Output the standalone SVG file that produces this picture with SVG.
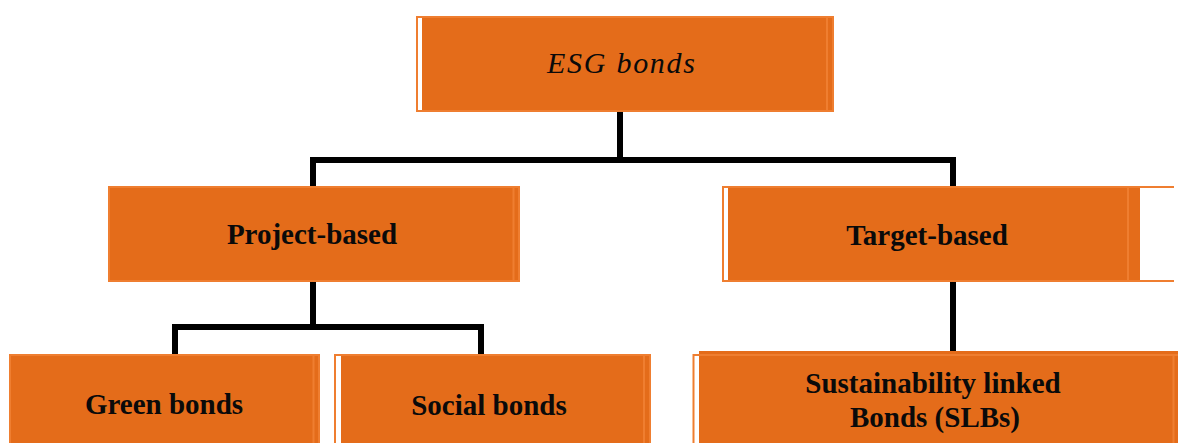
<svg xmlns="http://www.w3.org/2000/svg" width="1178" height="443" viewBox="0 0 1178 443">
<style>
.box{fill:#E46C1A;stroke:#EF7E30;stroke-width:2}
.fill{fill:#E46C1A}
.frame{fill:#FFFFFF;stroke:#EF7E30;stroke-width:2}
.strip{fill:#FFFFFF}
.edge{stroke:#EF7E30;stroke-width:2;fill:none}
.lbl{font-family:"Liberation Serif","Times New Roman",serif;font-size:29px;font-weight:bold;fill:#0A0A0A;text-anchor:middle}
.ital{font-family:"Liberation Serif","Times New Roman",serif;font-size:30px;font-style:italic;fill:#0A0A0A;text-anchor:middle}
.con{fill:none;stroke:#000000;stroke-width:6;stroke-linecap:butt;stroke-linejoin:miter}
</style>
<rect width="1178" height="443" fill="#FFFFFF"/>
<g id="connectors">
<path class="con" d="M620,112 V160"/>
<path class="con" d="M313,186 V160 H953 V186"/>
<path class="con" d="M313,282 V327"/>
<path class="con" d="M175,354 V327 H481 V354"/>
<path class="con" d="M953,282 V351"/>
</g>
<g id="esg">
<rect class="box" x="417" y="17" width="416" height="94"/>
<rect class="strip" x="418" y="18" width="4" height="92"/>
<line class="edge" x1="827" y1="17" x2="827" y2="111"/>
<text class="ital" x="621" y="73" textLength="148" lengthAdjust="spacing">ESG bonds</text>
</g>
<g id="project">
<rect class="box" x="109" y="187" width="410" height="94"/>
<line class="edge" x1="513.5" y1="187" x2="513.5" y2="281"/>
<text class="lbl" x="312" y="244">Project-based</text>
</g>
<g id="target">
<path class="edge" d="M1174,187 H723 V281 H1174"/>
<rect class="fill" x="728" y="188" width="412" height="92"/>
<line class="edge" x1="1128" y1="187" x2="1128" y2="281"/>
<text class="lbl" x="927" y="245">Target-based</text>
</g>
<g id="green">
<rect class="box" x="10" y="355" width="309" height="100"/>
<line class="edge" x1="313.5" y1="355" x2="313.5" y2="445"/>
<text class="lbl" x="164" y="414">Green bonds</text>
</g>
<g id="social">
<rect class="box" x="335" y="355" width="315" height="100"/>
<rect class="strip" x="336" y="356" width="5" height="90"/>
<line class="edge" x1="644" y1="355" x2="644" y2="445"/>
<text class="lbl" x="489" y="415">Social bonds</text>
</g>
<g id="slb">
<rect class="frame" x="693.5" y="355" width="490" height="100"/>
<rect class="fill" x="699" y="351" width="480" height="100"/>
<line class="edge" x1="699" y1="355" x2="1178" y2="355"/>
<line class="edge" x1="1173.5" y1="355" x2="1173.5" y2="445"/>
<text class="lbl" x="933" y="393">Sustainability linked</text>
<text class="lbl" x="935" y="427">Bonds (SLBs)</text>
</g>
</svg>
